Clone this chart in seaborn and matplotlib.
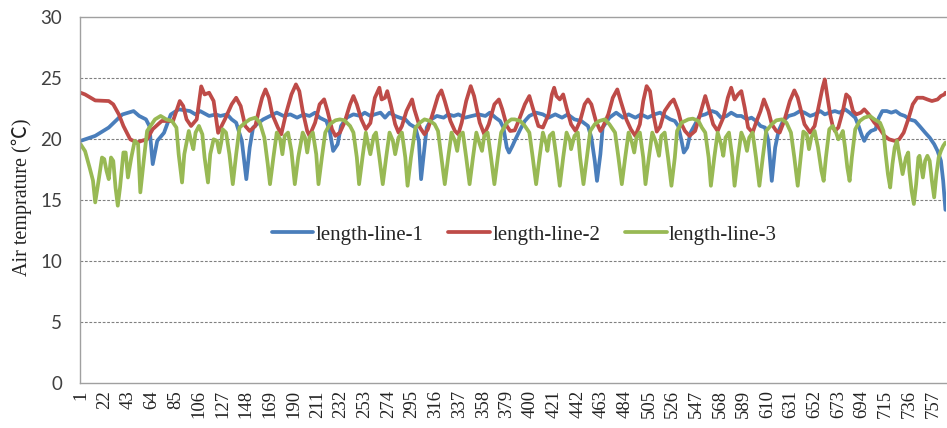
import matplotlib
matplotlib.use("Agg")
import matplotlib.pyplot as plt
import seaborn as sns
import pandas as pd

# Hour index (1..768) and air temperature readings for each measuring line
line1_hours = [1, 14, 26, 32, 38, 48, 53, 59, 62, 65, 69, 75, 81, 88, 98, 103, 107, 115, 121,
               125, 131, 135, 139, 144, 148, 151, 154, 159, 163, 169, 175, 181, 187, 193, 199, 204,
               209, 213, 219, 222, 225, 229, 232, 237, 243, 249,
               253, 258, 262, 267, 271, 275, 280, 284, 289, 293, 298, 301, 303, 306, 308, 312, 317,
               323, 327, 332, 336, 342, 348, 354, 360, 364, 369, 373, 376, 379, 381,
               384, 386, 391, 395, 399, 405, 411, 416, 422, 428, 433, 439, 445, 451, 454, 457, 459,
               462, 464, 470, 476, 482, 487, 493, 498, 504, 510,
               515, 519, 524, 528, 531, 534, 536, 539, 542, 546, 550, 555, 561, 565, 569, 574, 578,
               583, 587, 592, 596, 600, 604, 608, 611, 614, 617, 620, 624, 629, 634,
               639, 643, 648, 652, 657, 661, 665, 670, 674, 679, 683, 688, 691, 694, 696, 699, 702,
               706, 709, 712, 716, 720, 724, 728, 732, 736, 741, 745, 750, 754, 758, 761, 764, 766, 768]
line1_temp = [19.84, 20.25, 20.93, 21.47, 22.00, 22.28, 21.88, 21.60, 21.06, 17.94, 19.84, 20.50, 22.00,
              22.42, 22.28, 22.00, 22.28, 21.88, 22.00,
              21.88, 22.01, 21.60, 21.33, 19.84, 16.71, 19.30, 20.93, 21.33, 21.60, 21.88, 22.15, 21.88,
              22.01, 21.74, 22.01, 21.88, 22.15, 21.74, 21.47, 20.65, 19.02, 19.57, 21.06, 21.74, 22.01, 21.88,
              22.15, 21.88, 22.01, 22.15, 21.74, 22.15, 21.88, 21.74, 21.60, 21.20, 20.93, 19.84, 16.71,
              19.30, 20.93, 21.60, 21.88, 21.74, 22.01, 21.88, 22.01, 21.74, 21.88, 22.01, 21.88, 22.15,
              21.74, 21.47, 20.93, 19.30, 18.89,
              19.43, 19.84, 20.79, 21.47, 21.88, 22.15, 22.01, 21.74, 22.01, 21.74, 22.01, 21.60, 21.47,
              21.06, 20.11, 18.21, 16.57, 18.75, 20.93, 21.74, 22.15, 21.74, 22.01, 21.74, 22.01, 21.74, 22.01,
              22.15, 21.88, 21.60, 21.47, 21.06, 19.84, 18.89, 19.30, 20.52, 21.20, 21.88, 22.01, 22.28,
              22.15, 21.74, 21.88, 22.15, 21.88, 21.88, 21.60, 21.74, 21.47, 21.06, 20.93, 19.84, 16.57,
              19.30, 20.65, 21.47, 21.88, 22.01,
              22.28, 22.15, 21.88, 22.01, 22.28, 22.01, 22.15, 22.28, 22.15, 22.42, 22.15, 21.74, 21.06,
              20.25, 19.84, 20.38, 20.65, 20.79, 21.74, 22.28, 22.28, 22.15, 22.28, 22.01, 21.88, 21.60,
              21.47, 21.06, 20.52, 20.11, 19.57, 19.02, 18.21, 16.57, 14.20]

line2_hours = [1, 5, 14, 26, 30, 35, 39, 45, 51, 55, 60, 65, 73, 83, 86, 89, 92, 95, 99, 104, 108,
               111, 115, 119, 123, 129, 135, 139, 143, 147, 151, 156, 159, 162, 165, 168, 171, 176,
               179, 183, 188, 192, 195, 198, 202, 204, 209, 213, 217, 220, 224, 227, 231, 235, 240,
               243, 246, 250, 254, 258, 262, 266, 268, 271, 273, 276, 280, 283, 286, 290, 295, 297,
               302, 306, 309, 314, 318, 321, 324, 329, 333, 336, 339, 343, 347, 350, 355, 359, 363,
               368, 372, 375, 379, 382, 386, 390, 395, 399, 402, 407, 411, 416, 419, 421, 423, 426,
               429, 432, 436, 440, 444, 448, 451, 454, 458, 462, 464, 469, 473, 477, 480, 485, 489,
               493, 497, 500, 503, 506, 509, 512, 515, 519, 524, 527, 531, 534, 537, 541, 546, 550,
               555, 558, 562, 566, 571, 575, 578, 581, 584, 587, 590, 593, 597, 600, 604, 607, 611,
               614, 618, 621, 625, 630, 634, 637, 640, 643, 648, 652, 656, 659, 661, 663, 666, 668,
               670, 673, 677, 680, 683, 686, 689, 693, 696, 700, 705, 709, 714, 718, 723, 727, 731,
               735, 739, 743, 748, 752, 756, 761, 764, 767, 768]
line2_temp = [23.78, 23.64, 23.15, 23.10, 22.83, 22.00, 21.06, 19.97, 19.70, 19.84, 19.97, 20.80, 21.47,
              21.47, 22.28, 23.10, 22.70, 21.60, 21.06, 21.60, 24.30, 23.64, 23.78, 23.10, 20.50, 21.60,
              22.83, 23.37, 22.69, 21.06, 20.65, 21.06, 22.28, 23.37, 24.05, 23.37, 22.01, 20.93, 20.38,
              22.01, 23.64, 24.46, 23.91, 22.28, 20.65, 20.25, 21.33, 22.83, 23.24, 22.28, 20.79, 20.25,
              20.52, 21.33, 22.83, 23.51, 22.83, 21.60, 20.80, 21.30, 23.37, 24.19, 23.23, 23.37, 23.91,
              22.83, 21.20, 20.52, 21.06, 22.28, 23.23, 22.42, 20.93, 20.38, 20.79, 22.28, 23.51, 23.97,
              23.10, 21.47, 20.65, 20.38, 21.33, 23.10, 24.32, 23.51, 21.33, 20.38, 21.20, 22.83, 23.23,
              22.42, 21.06, 20.65, 20.70, 21.60, 22.83, 23.51, 22.55, 21.06, 20.93, 22.01, 23.64, 24.19,
              23.51, 23.23, 23.64, 22.55, 21.20, 20.65, 21.47, 22.83, 23.23, 22.83, 21.47, 20.65, 20.93,
              22.01, 23.37, 24.05, 23.10, 21.60, 20.79, 20.25, 21.20, 23.10, 24.32, 23.91, 22.00, 20.60,
              21.00, 22.28, 22.96, 23.23, 22.28, 21.20, 20.65, 20.25, 20.65, 21.88, 23.51, 22.55, 21.20,
              20.65, 21.74, 23.37, 24.19, 23.23, 23.64, 23.91, 22.55, 20.93, 20.52, 21.33, 22.28, 23.23,
              22.28, 21.20, 20.65, 20.52, 21.47, 23.10, 23.97, 23.37, 22.28, 21.20, 20.52, 21.06, 22.83,
              24.19, 24.87, 23.64, 21.88, 21.06, 20.65, 20.93, 22.28, 23.64, 23.37, 22.28, 22.01, 22.15,
              22.42, 22.01, 21.33, 20.93, 20.25, 19.97, 19.84, 19.97, 20.52, 21.60, 22.83, 23.37, 23.37,
              23.23, 23.10, 23.23, 23.51, 23.64, 23.78]

line3_hours = [1, 5, 9, 12, 14, 17, 20, 22, 24, 26, 28, 30, 32, 34, 36, 39, 41, 43, 46, 49, 52, 54,
               57, 60, 67, 72, 77, 82, 86, 88, 91, 93, 97, 99, 101, 103, 106, 109, 111, 114, 116, 119,
               122, 124, 126, 127, 130, 133, 136, 139, 142, 147, 151, 156, 160, 164, 167, 169, 172,
               175, 178, 180, 182, 185, 188, 191, 194, 198, 200, 202, 204, 207, 210, 212, 215, 218,
               222, 227, 231, 235, 240, 243, 246, 248, 251, 254, 256, 258, 261, 263, 266, 269, 272,
               275, 278, 280, 283, 286, 289, 291, 294, 298, 302, 306, 311, 315, 318, 321, 324, 327,
               330, 333, 335, 337, 340, 343, 346, 349, 352, 355, 357, 359, 362, 365, 368, 371, 374,
               379, 383, 386, 391, 395, 399, 402, 405, 408, 411, 414, 415, 417, 420, 423, 426, 429,
               432, 435, 436, 439, 442, 444, 447, 450, 453, 457, 461, 466, 470, 475, 478, 481, 484,
               487, 490, 492, 494, 497, 500, 502, 505, 508, 511, 514, 516, 519, 522, 525, 528, 530,
               534, 540, 544, 549, 552, 555, 558, 560, 563, 566, 569, 571, 573, 576, 579, 581, 584,
               587, 590, 592, 594, 597, 600, 603, 606, 609, 614, 618, 623, 627, 631, 634, 637, 640,
               642, 645, 647, 649, 652, 655, 658, 660, 662, 665, 668, 671, 673, 675, 677, 679, 681,
               683, 685, 688, 692, 696, 701, 705, 710, 713, 715, 717, 719, 721, 723, 725, 727, 730,
               733, 735, 736, 738, 740, 742, 744, 745, 748, 750, 752, 754, 756, 758, 760, 762, 764,
               766, 768]
line3_temp = [19.57, 19.00, 17.66, 16.60, 14.81, 16.60, 18.48, 18.35, 17.39, 16.71, 18.48, 18.20, 16.03,
              14.54, 16.03, 18.89, 18.89, 16.85, 18.48, 19.84, 19.57, 15.63, 18.21, 20.65, 21.60, 21.88,
              21.60, 21.47, 20.93, 18.75, 16.44, 18.75, 20.65, 19.84, 19.16, 20.52, 21.06, 20.38, 18.48,
              16.44, 18.75, 19.97, 19.84, 18.89, 19.84, 20.79, 20.52, 18.75, 16.30, 18.75, 20.93, 21.33,
              21.60, 21.74, 21.33, 20.11, 17.94, 16.30, 18.48, 20.52, 19.97, 18.75, 20.25, 20.52, 19.02,
              16.30, 18.48, 20.52, 20.11, 18.89, 20.11, 20.52, 18.75, 16.30, 18.48, 20.52, 21.20, 21.52,
              21.60, 21.52, 21.06, 20.52, 18.48, 16.30, 18.48, 20.52, 19.57, 18.75, 20.25, 20.52, 18.48,
              16.30, 18.48, 20.52, 19.84, 18.75, 20.11, 20.52, 18.48, 16.17, 18.48, 20.93, 21.33, 21.60,
              21.47, 21.20, 20.65, 18.48, 16.30, 18.48, 20.52, 19.84, 19.02, 20.25, 20.52, 18.48, 16.30,
              18.48, 20.52, 19.57, 19.02, 20.25, 20.52, 18.48, 16.30, 18.48, 20.52, 21.33, 21.60, 21.60,
              21.47, 21.06, 20.52, 18.48, 16.30, 18.48, 20.52, 19.57, 19.02, 20.25, 20.52, 18.48, 16.17,
              18.48, 20.52, 19.84, 19.16, 20.25, 20.52, 18.48, 16.30, 18.48, 20.65, 21.20, 21.47, 21.60,
              21.20, 20.52, 18.48, 16.30, 18.48, 20.52, 19.70, 18.89, 20.11, 20.52, 18.48, 16.30, 18.48,
              20.52, 19.80, 18.62, 20.25, 20.52, 18.48, 16.17, 18.48, 20.65, 21.33, 21.60, 21.66, 21.47,
              20.93, 20.52, 18.48, 16.17, 18.48, 20.52, 19.57, 18.62, 20.11, 20.52, 18.48, 16.17, 18.48,
              20.52, 19.84, 19.02, 20.11, 20.52, 18.48, 16.17, 18.48, 20.65, 21.20, 21.52, 21.60, 21.33,
              20.52, 18.48, 16.17, 18.80, 20.60, 20.38, 19.16, 20.11, 20.65, 19.30, 17.39, 16.57, 18.48,
              20.79, 21.06, 20.52, 19.97, 20.25, 20.65, 19.30, 17.66, 16.57, 18.48, 20.79, 21.47, 21.74,
              21.88, 21.60, 21.33, 20.65, 18.75, 17.12, 16.03, 17.94, 19.30, 19.84, 18.75, 17.12, 18.48,
              18.89, 17.39, 15.76, 14.68, 16.30, 18.48, 18.62, 16.85, 18.21, 18.62, 18.21, 16.57, 15.22,
              17.12, 18.48, 19.02, 19.43, 19.70]

series_names = ["length-line-1", "length-line-2", "length-line-3"]
series_colors = ["#4a7ebb", "#be4b48", "#98b954"]
x_tick_labels = [str(v) for v in range(1, 758, 21)]
y_ticks = [0, 5, 10, 15, 20, 25, 30]

frames = []
for name, hrs, vals in zip(series_names,
                           [line1_hours, line2_hours, line3_hours],
                           [line1_temp, line2_temp, line3_temp]):
    frames.append(pd.DataFrame({"hour": hrs, "temp": vals, "line": name}))
data = pd.concat(frames, ignore_index=True)

sns.set_theme(style="white")
serif = ["Liberation Serif", "Noto Sans CJK SC", "DejaVu Sans"]

fig = plt.figure(figsize=(9.47, 4.28), dpi=100)
ax = fig.add_axes([80 / 947, 1 - 383.4 / 428, 866 / 947, (383.4 - 16.7) / 428])

sns.lineplot(data=data, x="hour", y="temp", hue="line", hue_order=series_names,
             palette=series_colors, estimator=None, sort=True, linewidth=2.7,
             ax=ax, legend=True)
for ln in ax.get_lines():
    ln.set_solid_joinstyle("round")
    ln.set_solid_capstyle("round")

ax.set_xlim(0.5, 768.5)
ax.set_ylim(0, 30)
ax.set_yticks(y_ticks)
ax.set_yticklabels([str(v) for v in y_ticks], family="Lato", fontsize=13.5, color="#404040")
ax.set_xticks([int(s) for s in x_tick_labels])
ax.set_xticklabels(x_tick_labels, rotation=90, family=serif, fontsize=13.5, color="#222222")
ax.tick_params(axis="y", length=0, pad=13)
ax.tick_params(axis="x", length=0, pad=5)

for yv in y_ticks[1:-1]:
    ax.axhline(yv, color="#808080", linewidth=0.8, linestyle=(0, (2.5, 1.5)), zorder=0)

for side in ["left", "bottom", "top"]:
    ax.spines[side].set_color("#a0a0a0")
    ax.spines[side].set_linewidth(1.0)
ax.spines["right"].set_visible(False)

ax.set_xlabel("")
ax.set_ylabel("Air temprature (℃)", family=serif, fontsize=14.5, color="#222222")
ax.yaxis.set_label_coords(-0.0554, 0.508)

handles, labels = ax.get_legend_handles_labels()
leg = ax.legend(handles, labels, loc="center", bbox_to_anchor=(0.513, 0.405), ncol=3,
                frameon=False, handlelength=2.0, handletextpad=0.1, columnspacing=1.2,
                prop={"family": serif, "size": 15})
for lh in leg.get_lines():
    lh.set_linewidth(2.7)

fig.savefig("out.png", dpi=100)
